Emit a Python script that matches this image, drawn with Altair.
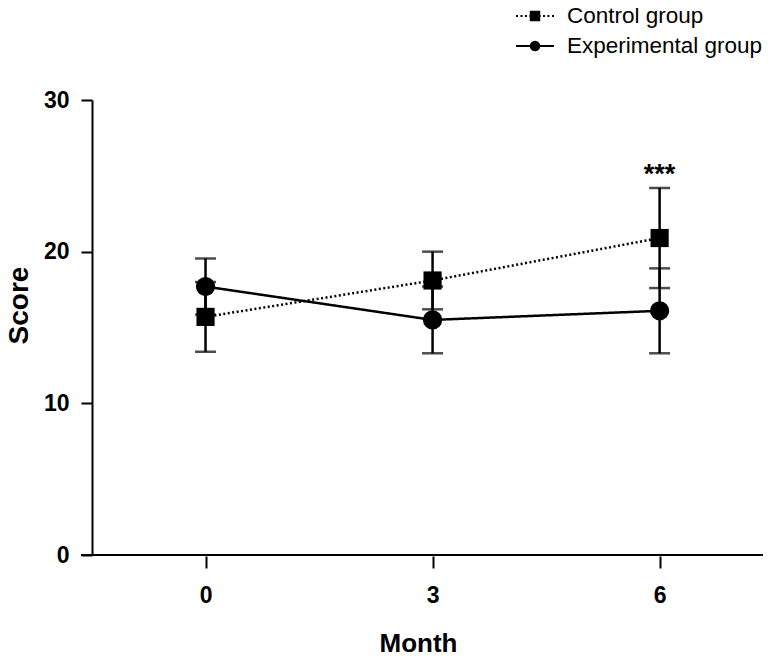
import altair as alt
import pandas as pd

# ---- data ----
months = [0, 3, 6]
groups = ["Control group", "Experimental group"]
control_mean = [15.7, 18.1, 20.9]
control_sd = [2.3, 1.9, 3.3]
exp_mean = [17.7, 15.5, 16.1]
exp_sd = [1.85, 2.2, 2.8]
x_ticks = [0, 3, 6]
y_ticks = [0, 10, 20, 30]
sig_month = 6
sig_label = "***"

rows = []
for g, means, sds in [(groups[0], control_mean, control_sd), (groups[1], exp_mean, exp_sd)]:
    for m, mu, sd in zip(months, means, sds):
        rows.append({"month": m, "group": g, "mean": mu, "lo": mu - sd, "hi": mu + sd})
df = pd.DataFrame(rows)
sig_df = df[(df["group"] == groups[0]) & (df["month"] == sig_month)].copy()
sig_df["label"] = sig_label

W, H = 666, 455
FONT = "Liberation Sans"

x_axis = alt.Axis(values=x_ticks, title="Month", domain=False, grid=False, offset=1,
                  tickSize=12, tickWidth=2, tickColor="black",
                  labelFont=FONT, labelFontSize=23, labelFontWeight="bold", labelColor="black",
                  labelPadding=16,
                  titleFont=FONT, titleFontSize=26, titleFontWeight="bold", titleColor="black",
                  titleX=326, titleY=87, titleBaseline="middle", titleAlign="center")
y_axis = alt.Axis(values=y_ticks, title="Score", grid=False, domainWidth=2, domainColor="black",
                  tickSize=11, tickWidth=2, tickColor="black",
                  labelFont=FONT, labelFontSize=23, labelFontWeight="bold", labelColor="black",
                  labelPadding=12,
                  titleFont=FONT, titleFontSize=28, titleFontWeight="bold", titleColor="black",
                  titleX=-73, titleY=205, titleBaseline="middle", titleAlign="center", titleAngle=-90)

x_scale = alt.Scale(domain=[-1.5, 7.3], nice=False, zero=False)
y_scale = alt.Scale(domain=[0, 30], nice=False)

def X():
    return alt.X("month:Q", scale=x_scale, axis=x_axis)

def Y(field):
    return alt.Y(f"{field}:Q", scale=y_scale, axis=y_axis)

dash_enc = alt.StrokeDash("group:N", scale=alt.Scale(domain=groups, range=[[2, 2.5], [1, 0]]), legend=None)
shape_enc = alt.Shape("group:N", scale=alt.Scale(domain=groups, range=["square", "circle"]), legend=None)
size_enc = alt.Size("group:N", scale=alt.Scale(domain=groups, range=[330, 370]), legend=None)

base = alt.Chart(df)

errbars = base.mark_errorbar(ticks={"size": 21, "thickness": 2.5, "color": "black"},
                             thickness=2.5, color="black").encode(
    x=X(), y=Y("lo"), y2="hi:Q", detail="group:N")

lines = base.mark_line(strokeWidth=2.5, color="black").encode(
    x=X(), y=Y("mean"), strokeDash=dash_enc, detail="group:N")

points = base.mark_point(filled=True, opacity=1, color="black").encode(
    x=X(), y=Y("mean"), shape=shape_enc, size=size_enc)

sig = alt.Chart(sig_df).mark_text(font=FONT, fontSize=27, fontWeight="bold", color="black",
                                  baseline="alphabetic", dy=-5).encode(
    x=X(), y=Y("hi"), text="label:N")

baseline_rule = alt.Chart(pd.DataFrame({"a": [0]})).mark_rule(strokeWidth=2, color="black").encode(
    x=alt.value(-11), x2=alt.value(W + 5), y=alt.value(H))

leg_df = pd.DataFrame({"group": groups})
legend_layers = []
for g, yy in zip(groups, [-84, -54]):
    lb = alt.Chart(leg_df).transform_filter(alt.datum.group == g)
    legend_layers.append(lb.mark_rule(strokeWidth=2, color="black").encode(
        x=alt.value(424), x2=alt.value(462), y=alt.value(yy), strokeDash=dash_enc))
    legend_layers.append(lb.mark_point(filled=True, opacity=1, color="black").encode(
        x=alt.value(443), y=alt.value(yy), shape=shape_enc, size=alt.value(110)))
    legend_layers.append(lb.mark_text(font=FONT, fontSize=22.5, color="black", align="left",
                                      baseline="middle").encode(
        x=alt.value(475), y=alt.value(yy), text="group:N"))

chart = alt.layer(baseline_rule, errbars, lines, points, sig, *legend_layers).properties(
    width=W, height=H,
    autosize=alt.AutoSizeParams(type="none"),
    padding={"left": 84, "top": 92, "right": 5, "bottom": 100},
    background="white",
).configure_view(stroke=None)

chart.save("out.html", embed_options={"renderer": "svg", "actions": False})
